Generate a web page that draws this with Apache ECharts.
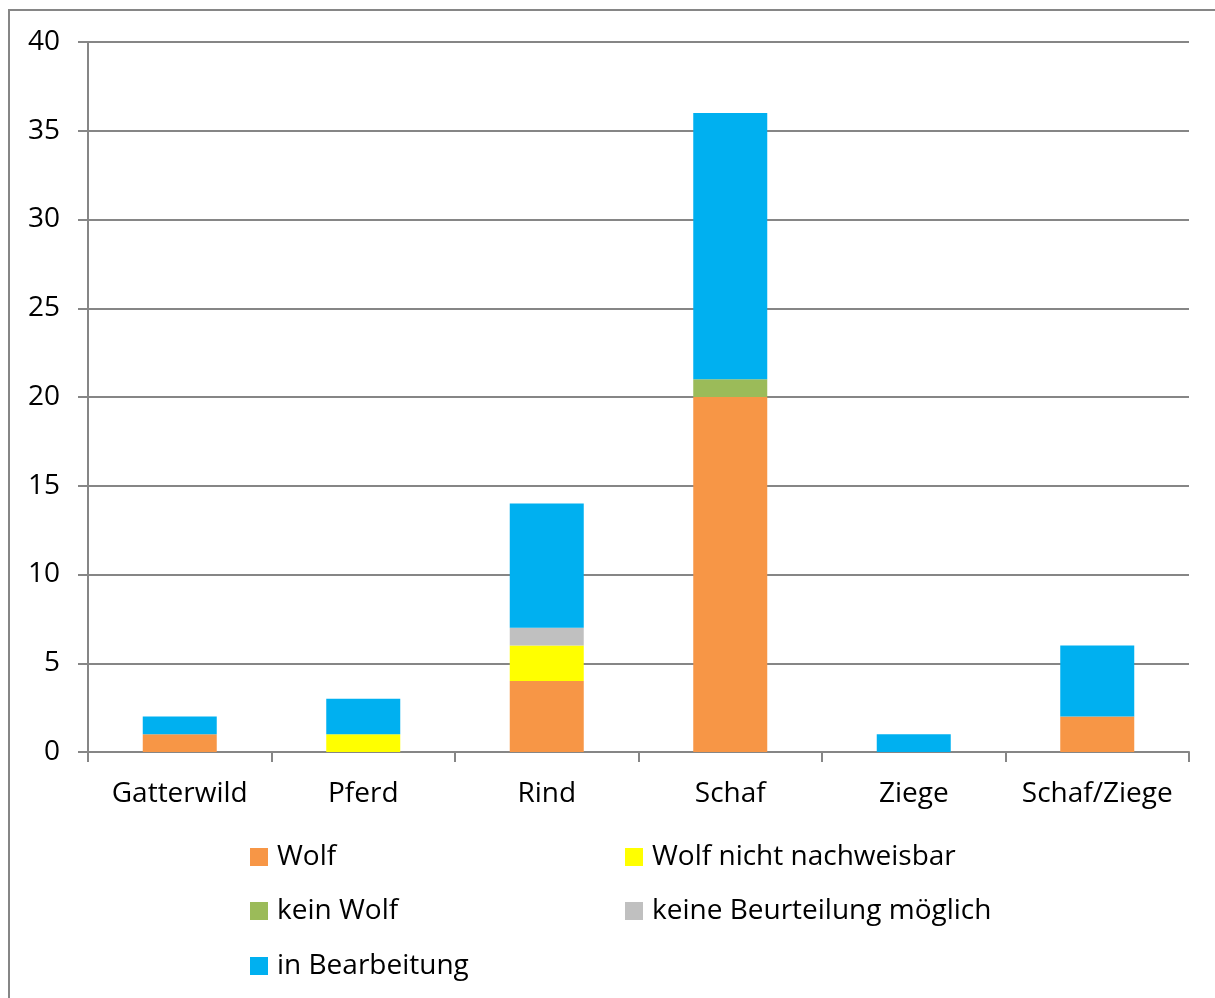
<!DOCTYPE html>
<html><head><meta charset="utf-8">
<script src="https://cdn.jsdelivr.net/npm/echarts@6/dist/echarts.min.js"></script>
<style>html,body{margin:0;padding:0;background:#fff}#c{width:1215px;height:998px}</style>
</head><body><div id="c"></div>
<script>
const categories = ['Gatterwild','Pferd','Rind','Schaf','Ziege','Schaf/Ziege'];
const seriesNames = ['Wolf','Wolf nicht nachweisbar','kein Wolf','keine Beurteilung möglich','in Bearbeitung'];
const wolf = [1,0,4,20,0,2];
const wolfNichtNachweisbar = [0,1,2,0,0,0];
const keinWolf = [0,0,0,1,0,0];
const keineBeurteilung = [0,0,1,0,0,0];
const inBearbeitung = [1,2,7,15,1,4];
const colors = ['#F79646','#FFFF00','#9BBB59','#C0C0C0','#00B0F0'];
const yTicks = {min:0,max:40,interval:5};

const values = [wolf,wolfNichtNachweisbar,keinWolf,keineBeurteilung,inBearbeitung];
const FONT = 'Open Sans';
const chart = echarts.init(document.getElementById('c'));
const legendPos = [[245,838],[620,838],[245,892],[620,892],[245,947]];
chart.setOption({
  animation:false,
  textStyle:{fontFamily:FONT},
  grid:{left:88,right:26,top:42,bottom:246},
  graphic:[{type:'rect',shape:{x:9,y:10,width:1240,height:1030},style:{fill:null,stroke:'#868686',lineWidth:2},silent:true}],
  legend: seriesNames.map((n,i)=>({data:[n],left:legendPos[i][0],top:legendPos[i][1],itemWidth:18,itemHeight:18,itemGap:8,icon:'rect',
    textStyle:{fontFamily:FONT,fontSize:28,color:'#000',padding:[0,0,0,4]}})),
  xAxis:{type:'category',data:categories,
    axisLine:{lineStyle:{color:'#868686',width:2}},
    axisTick:{show:true,length:10,interval:0,lineStyle:{color:'#868686',width:2}},
    axisLabel:{fontSize:28,color:'#000',margin:28,interval:0,fontFamily:FONT}},
  yAxis:{type:'value',min:yTicks.min,max:yTicks.max,interval:yTicks.interval,
    axisLine:{show:true,lineStyle:{color:'#868686',width:2}},
    axisTick:{show:true,length:10,lineStyle:{color:'#868686',width:2}},
    splitLine:{lineStyle:{color:'#868686',width:2}},
    axisLabel:{fontSize:28,color:'#000',margin:28,fontFamily:FONT}},
  series: seriesNames.map((n,i)=>({name:n,type:'bar',stack:'a',data:values[i],barWidth:74,
    itemStyle:{color:colors[i]}}))
});
</script></body></html>
